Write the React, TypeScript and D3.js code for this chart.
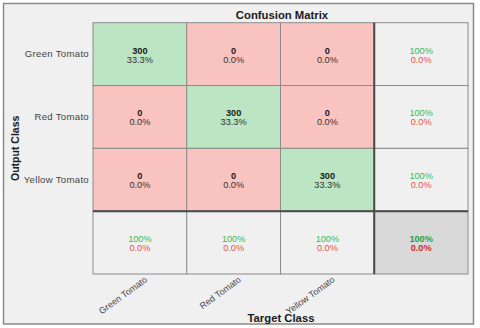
import { useEffect, useRef } from 'react';
import * as d3 from 'd3';

const classes = ['Green Tomato', 'Red Tomato', 'Yellow Tomato'];
// rows = output class, cols = target class
const counts = [
  [300, 0, 0],
  [0, 300, 0],
  [0, 0, 300],
];
const cellPercents = [
  ['33.3%', '0.0%', '0.0%'],
  ['0.0%', '33.3%', '0.0%'],
  ['0.0%', '0.0%', '33.3%'],
];
const rowCorrect = ['100%', '100%', '100%'];
const rowWrong = ['0.0%', '0.0%', '0.0%'];
const colCorrect = ['100%', '100%', '100%'];
const colWrong = ['0.0%', '0.0%', '0.0%'];
const totalCorrect = '100%';
const totalWrong = '0.0%';

const FONT = 'Arial, "Liberation Sans", Helvetica, sans-serif';

export default function App() {
  const svgRef = useRef<SVGSVGElement | null>(null);

  useEffect(() => {
    if (!svgRef.current) return;
    const svg = d3.select(svgRef.current);
    svg.selectAll('*').remove();

    const width = 480;
    const height = 328;
    const n = classes.length;
    const idx = d3.range(n + 1);

    const x = d3.scaleBand<number>().domain(idx).range([93, 468]);
    const y = d3.scaleBand<number>().domain(idx).range([22.7, 274]);
    const bw = x.bandwidth();
    const bh = y.bandwidth();

    // background + frame
    svg.append('rect').attr('width', width).attr('height', height).attr('fill', '#fff');
    svg.append('rect')
      .attr('x', 3.5).attr('y', 3.5)
      .attr('width', 470).attr('height', 320.5)
      .attr('fill', '#f0f0f0')
      .attr('stroke', '#8a8a8a')
      .attr('stroke-width', 1.5);

    const cells: { r: number; c: number }[] = [];
    idx.forEach((r) => idx.forEach((c) => cells.push({ r, c })));

    const fillFor = (d: { r: number; c: number }) => {
      if (d.r === n && d.c === n) return '#d9d9d9';
      if (d.r === n || d.c === n) return '#f0f0f0';
      return d.r === d.c ? '#bce5c4' : '#f9c3c0';
    };

    const g = svg.append('g');
    g.selectAll('rect.cell')
      .data(cells)
      .join('rect')
      .attr('class', 'cell')
      .attr('x', (d) => x(d.c)!)
      .attr('y', (d) => y(d.r)!)
      .attr('width', bw)
      .attr('height', bh)
      .attr('fill', fillFor)
      .attr('stroke', '#8c8c8c')
      .attr('stroke-width', 1);

    // heavy separators for summary row/column
    g.append('line')
      .attr('x1', x(n)!).attr('x2', x(n)!)
      .attr('y1', y(0)!).attr('y2', y(n)! + bh)
      .attr('stroke', '#4a4a4a').attr('stroke-width', 2);
    g.append('line')
      .attr('x1', x(0)!).attr('x2', x(n)! + bw)
      .attr('y1', y(n)!).attr('y2', y(n)!)
      .attr('stroke', '#4a4a4a').attr('stroke-width', 2);

    // cell texts
    const text = svg.append('g').attr('font-family', FONT).attr('text-anchor', 'middle').attr('font-size', 9.2);
    cells.forEach((d) => {
      const cx = x(d.c)! + bw / 2;
      const cy = y(d.r)! + bh / 2;
      let top: string, bottom: string;
      let topFill = '#1a1a1a', bottomFill = '#333', topBold = true, bottomBold = false;
      if (d.r < n && d.c < n) {
        top = String(counts[d.r][d.c]);
        bottom = cellPercents[d.r][d.c];
      } else {
        if (d.r === n && d.c === n) {
          top = totalCorrect; bottom = totalWrong;
          topFill = '#1f9e3a'; bottomFill = '#d42a2a';
        } else if (d.c === n) {
          top = rowCorrect[d.r]; bottom = rowWrong[d.r];
          topFill = '#3cba52'; bottomFill = '#e8504e'; topBold = false;
        } else {
          top = colCorrect[d.c]; bottom = colWrong[d.c];
          topFill = '#3cba52'; bottomFill = '#e8504e'; topBold = false;
        }
        bottomBold = d.r === n && d.c === n;
      }
      text.append('text')
        .attr('x', cx).attr('y', cy - 0.5)
        .attr('fill', topFill)
        .attr('font-weight', topBold ? 'bold' : 'normal')
        .text(top);
      text.append('text')
        .attr('x', cx).attr('y', cy + 8.5)
        .attr('fill', bottomFill)
        .attr('font-weight', bottomBold ? 'bold' : 'normal')
        .text(bottom);
    });

    // row labels
    svg.append('g')
      .attr('font-family', FONT).attr('font-size', 9.6).attr('fill', '#444')
      .attr('letter-spacing', 0.3)
      .selectAll('text')
      .data(classes)
      .join('text')
      .attr('x', 89)
      .attr('y', (_, i) => y(i)! + bh / 2 + 3)
      .attr('text-anchor', 'end')
      .text((d) => d);

    // column labels, rotated
    svg.append('g')
      .attr('font-family', FONT).attr('font-size', 9).attr('fill', '#444')
      .selectAll('text')
      .data(classes)
      .join('text')
      .attr('text-anchor', 'end')
      .attr('transform', (_, i) => `translate(${x(i)! + bw / 2 + 8},${281}) rotate(-36)`)
      .text((d) => d);

    // titles
    const titleSize = 11.3;
    svg.append('text')
      .attr('x', 282).attr('y', 19)
      .attr('text-anchor', 'middle')
      .attr('font-family', FONT).attr('font-size', titleSize).attr('font-weight', 'bold')
      .attr('fill', '#1a1a1a')
      .text('Confusion Matrix');

    svg.append('text')
      .attr('x', 281).attr('y', 322)
      .attr('text-anchor', 'middle')
      .attr('font-family', FONT).attr('font-size', titleSize).attr('font-weight', 'bold')
      .attr('fill', '#1a1a1a')
      .text('Target Class');

    svg.append('text')
      .attr('transform', `translate(19,${(y(0)! + y(n)! + bh) / 2}) rotate(-90)`)
      .attr('text-anchor', 'middle')
      .attr('font-family', FONT).attr('font-size', 10.5).attr('font-weight', 'bold')
      .attr('fill', '#1a1a1a')
      .text('Output Class');
  }, []);

  return (
    <svg
      ref={svgRef}
      width={480}
      height={328}
      style={{ position: 'absolute', left: 0, top: 0, display: 'block' }}
    />
  );
}
